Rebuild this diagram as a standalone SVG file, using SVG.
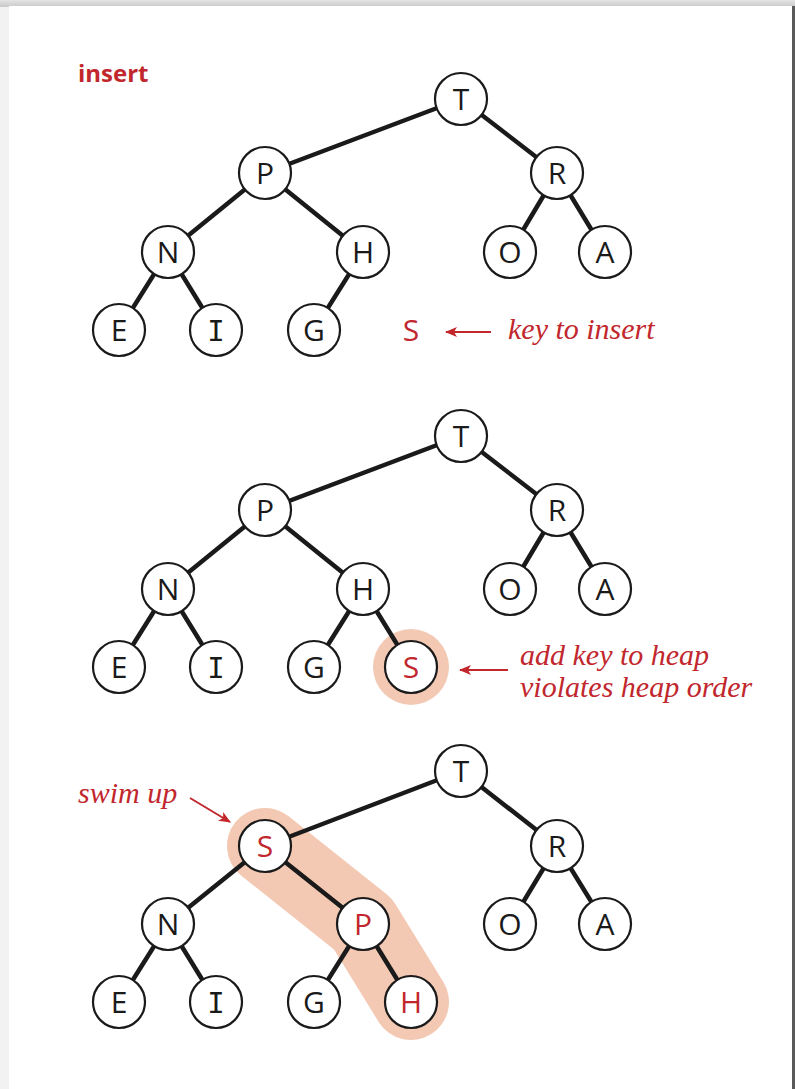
<svg xmlns="http://www.w3.org/2000/svg" width="795" height="1089" viewBox="0 0 795 1089">
<defs>
<linearGradient id="lg" x1="0" x2="1" y1="0" y2="0"><stop offset="0" stop-color="#f2f2f2"/><stop offset="1" stop-color="#d6d6d6"/></linearGradient>
<linearGradient id="tg" x1="0" x2="0" y1="0" y2="1"><stop offset="0" stop-color="#e4e4e4"/><stop offset="1" stop-color="#c8c8c8"/></linearGradient>
<marker id="ah" viewBox="0 0 12 10" refX="11" refY="5" markerWidth="12" markerHeight="10" markerUnits="userSpaceOnUse" orient="auto"><path d="M0,0 L12,5 L0,10 L3,5 Z" fill="#c1272d"/></marker>
</defs>
<style>
.e{stroke:#1a1a1a;stroke-width:4.5;fill:none}
.n circle{fill:#fff;stroke:#1a1a1a;stroke-width:2.2}
.n text{font-family:"Open Sans","Noto Sans",sans-serif;font-size:30px;text-anchor:middle;fill:#1a1a1a}
.n text.r{fill:#c1272d}
.n text.i{font-family:"DejaVu Sans Mono","Liberation Mono",monospace;font-size:29px}
.lab{font-family:"Liberation Serif","DejaVu Serif",serif;font-style:italic;font-size:30px;fill:#c1272d}
.ar{stroke:#c1272d;stroke-width:2;fill:none;marker-end:url(#ah)}
.hl{fill:#f3c9b4}
</style>
<rect x="0" y="0" width="795" height="1089" fill="url(#lg)"/>
<rect x="0" y="0" width="795" height="7" fill="url(#tg)"/>
<rect x="9" y="6" width="783" height="1083" fill="#fff"/>
<rect x="792" y="6" width="3" height="1083" fill="#5a5a5a"/>
<text x="78" y="82" font-family="Open Sans, Noto Sans, sans-serif" font-weight="bold" font-size="24" fill="#c1272d">insert</text>

<!-- highlights -->
<circle class="hl" cx="411" cy="667" r="38"/>
<path d="M265,846 L363,924 L411,1002" stroke="#f3c9b4" stroke-width="76" stroke-linecap="round" stroke-linejoin="round" fill="none"/>

<g id="connectors">
<!-- tree 1 -->
<path class="e" d="M461,99 L265,173 M461,99 L557,173 M265,173 L168,252 M265,173 L363,252 M557,173 L510,252 M557,173 L605,252 M168,252 L119,330 M168,252 L216,330 M363,252 L314,330"/>
<!-- tree 2 -->
<path class="e" d="M461,436 L265,510 M461,436 L557,510 M265,510 L168,589 M265,510 L363,589 M557,510 L510,589 M557,510 L605,589 M168,589 L119,667 M168,589 L216,667 M363,589 L314,667 M363,589 L411,667"/>
<!-- tree 3 -->
<path class="e" d="M461,771 L265,846 M461,771 L557,846 M265,846 L168,924 M265,846 L363,924 M557,846 L510,924 M557,846 L605,924 M168,924 L119,1002 M168,924 L216,1002 M363,924 L314,1002 M363,924 L411,1002"/>
<!-- annotation arrows -->
<line class="ar" x1="491" y1="332" x2="446" y2="332"/>
<line class="ar" x1="508" y1="670" x2="460" y2="670"/>
<line class="ar" x1="190" y1="798" x2="230" y2="822"/>
</g>

<!-- tree 1 nodes -->
<g id="t1-T" class="n"><circle cx="461" cy="99" r="26"/><text x="461" y="110">T</text></g>
<g id="t1-P" class="n"><circle cx="265" cy="173" r="26"/><text x="265" y="184">P</text></g>
<g id="t1-R" class="n"><circle cx="557" cy="173" r="26"/><text x="557" y="184">R</text></g>
<g id="t1-N" class="n"><circle cx="168" cy="252" r="26"/><text x="168" y="263">N</text></g>
<g id="t1-H" class="n"><circle cx="363" cy="252" r="26"/><text x="363" y="263">H</text></g>
<g id="t1-O" class="n"><circle cx="510" cy="252" r="26"/><text x="510" y="263">O</text></g>
<g id="t1-A" class="n"><circle cx="605" cy="252" r="26"/><text x="605" y="263">A</text></g>
<g id="t1-E" class="n"><circle cx="119" cy="330" r="26"/><text x="119" y="341">E</text></g>
<g id="t1-I" class="n"><circle cx="216" cy="330" r="26"/><text class="i" x="216" y="341">I</text></g>
<g id="t1-G" class="n"><circle cx="314" cy="330" r="26"/><text x="314" y="341">G</text></g>
<g id="t1-S" class="n"><text class="r" x="411" y="341">S</text></g>
<text class="lab" x="508" y="339">key to insert</text>

<!-- tree 2 nodes -->
<g id="t2-T" class="n"><circle cx="461" cy="436" r="26"/><text x="461" y="447">T</text></g>
<g id="t2-P" class="n"><circle cx="265" cy="510" r="26"/><text x="265" y="521">P</text></g>
<g id="t2-R" class="n"><circle cx="557" cy="510" r="26"/><text x="557" y="521">R</text></g>
<g id="t2-N" class="n"><circle cx="168" cy="589" r="26"/><text x="168" y="600">N</text></g>
<g id="t2-H" class="n"><circle cx="363" cy="589" r="26"/><text x="363" y="600">H</text></g>
<g id="t2-O" class="n"><circle cx="510" cy="589" r="26"/><text x="510" y="600">O</text></g>
<g id="t2-A" class="n"><circle cx="605" cy="589" r="26"/><text x="605" y="600">A</text></g>
<g id="t2-E" class="n"><circle cx="119" cy="667" r="26"/><text x="119" y="678">E</text></g>
<g id="t2-I" class="n"><circle cx="216" cy="667" r="26"/><text class="i" x="216" y="678">I</text></g>
<g id="t2-G" class="n"><circle cx="314" cy="667" r="26"/><text x="314" y="678">G</text></g>
<g id="t2-S" class="n"><circle cx="411" cy="667" r="26"/><text class="r" x="411" y="678">S</text></g>
<text class="lab" x="520" y="665">add key to heap</text>
<text class="lab" x="520" y="697">violates heap order</text>

<!-- tree 3 nodes -->
<g id="t3-T" class="n"><circle cx="461" cy="771" r="26"/><text x="461" y="782">T</text></g>
<g id="t3-S" class="n"><circle cx="265" cy="846" r="26"/><text class="r" x="265" y="857">S</text></g>
<g id="t3-R" class="n"><circle cx="557" cy="846" r="26"/><text x="557" y="857">R</text></g>
<g id="t3-N" class="n"><circle cx="168" cy="924" r="26"/><text x="168" y="935">N</text></g>
<g id="t3-P" class="n"><circle cx="363" cy="924" r="26"/><text class="r" x="363" y="935">P</text></g>
<g id="t3-O" class="n"><circle cx="510" cy="924" r="26"/><text x="510" y="935">O</text></g>
<g id="t3-A" class="n"><circle cx="605" cy="924" r="26"/><text x="605" y="935">A</text></g>
<g id="t3-E" class="n"><circle cx="119" cy="1002" r="26"/><text x="119" y="1013">E</text></g>
<g id="t3-I" class="n"><circle cx="216" cy="1002" r="26"/><text class="i" x="216" y="1013">I</text></g>
<g id="t3-G" class="n"><circle cx="314" cy="1002" r="26"/><text x="314" y="1013">G</text></g>
<g id="t3-H" class="n"><circle cx="411" cy="1002" r="26"/><text class="r" x="411" y="1013">H</text></g>
<text class="lab" x="78" y="803">swim up</text>
</svg>
